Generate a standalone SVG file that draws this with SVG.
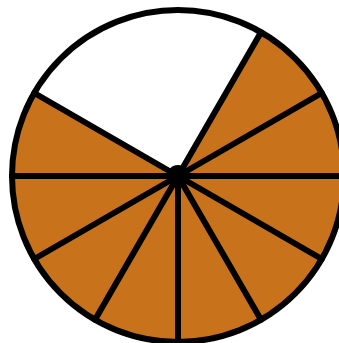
<svg xmlns="http://www.w3.org/2000/svg" width="339" height="343" viewBox="0 0 339 343">
<style>
.spoke{stroke:#000;stroke-width:6;stroke-linecap:round;fill:none}
</style>
<rect width="339" height="343" fill="#fff"/>
<g id="pie">
<circle cx="178" cy="176" r="166" fill="#C8731B"/>
<path d="M178 176 L34.24 93 A166 166 0 0 1 261 32.24 Z" fill="#fff"/>
</g>
<g id="spokes">
<line class="spoke" x1="178" y1="176" x2="261" y2="32.24"/>
<line class="spoke" x1="178" y1="176" x2="321.76" y2="93"/>
<line class="spoke" x1="178" y1="176" x2="344" y2="176"/>
<line class="spoke" x1="178" y1="176" x2="321.76" y2="259"/>
<line class="spoke" x1="178" y1="176" x2="261" y2="319.76"/>
<line class="spoke" x1="178" y1="176" x2="178" y2="342"/>
<line class="spoke" x1="178" y1="176" x2="95" y2="319.76"/>
<line class="spoke" x1="178" y1="176" x2="34.24" y2="259"/>
<line class="spoke" x1="178" y1="176" x2="12" y2="176"/>
<line class="spoke" x1="178" y1="176" x2="34.24" y2="93"/>
</g>
<g id="outline">
<circle cx="178" cy="176" r="166" fill="none" stroke="#000" stroke-width="6"/>
<circle cx="178" cy="176" r="11" fill="#000"/>
</g>
</svg>
